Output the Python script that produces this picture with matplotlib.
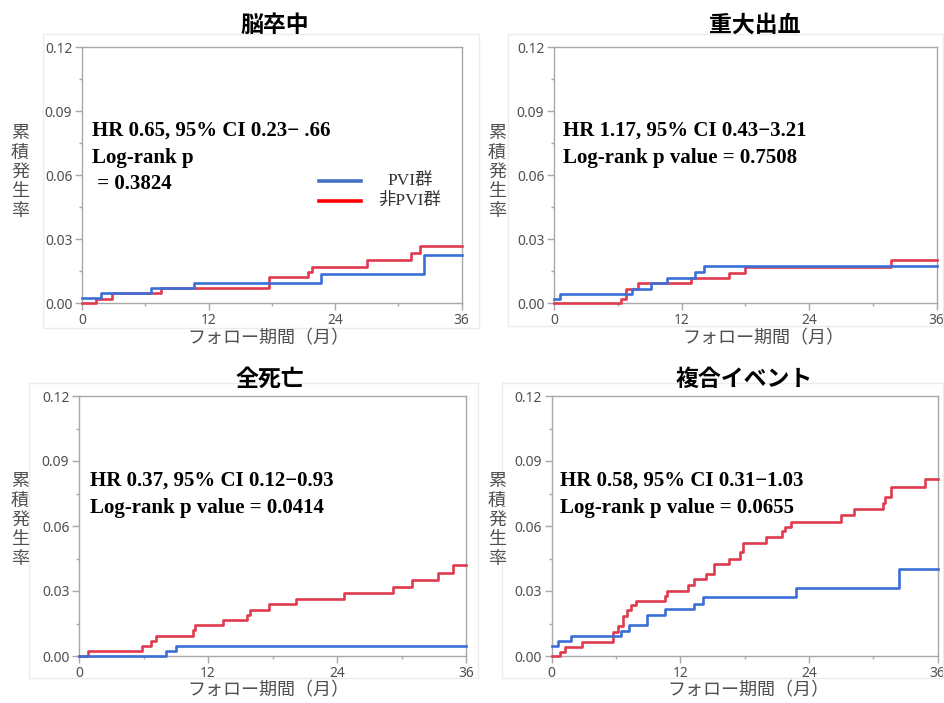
import matplotlib
matplotlib.use("Agg")
import matplotlib.pyplot as plt
from matplotlib.lines import Line2D
from matplotlib.patches import Rectangle
from matplotlib.ticker import MultipleLocator, FormatStrFormatter

W, H = 944, 703

# ---------------- data ----------------
titles = ["脳卒中", "重大出血", "全死亡", "複合イベント"]
xlabel = "フォロー期間（月）"
ylabel = "累積発生率"
legend_labels = ["PVI群", "非PVI群"]
x_ticks = [0, 12, 24, 36]
y_ticks = [0.00, 0.03, 0.06, 0.09, 0.12]

stroke_pvi_t = [0, 1.8, 6.55, 10.6, 22.7, 32.4, 36]
stroke_pvi_y = [0.0025, 0.0047, 0.0072, 0.0095, 0.0137, 0.0225, 0.0225]
stroke_non_t = [0, 1.3, 2.85, 7.5, 17.7, 21.4, 21.85, 27.0, 31.25, 32.1, 36]
stroke_non_y = [0, 0.002, 0.0047, 0.0072, 0.012, 0.0145, 0.0171, 0.02, 0.0233, 0.0267, 0.0267]

bleed_pvi_t = [0, 0.6, 7.3, 9.1, 10.6, 13.3, 14.1, 36]
bleed_pvi_y = [0.002, 0.0044, 0.0067, 0.0093, 0.0117, 0.0145, 0.0173, 0.0173]
bleed_non_t = [0, 6.3, 6.8, 7.9, 12.85, 16.5, 18.0, 31.7, 36]
bleed_non_y = [0, 0.002, 0.0067, 0.0093, 0.0117, 0.0142, 0.0168, 0.02, 0.02]

death_pvi_t = [0, 8.06, 9.0, 36]
death_pvi_y = [0, 0.0022, 0.0045, 0.0045]
death_non_t = [0, 0.87, 5.9, 6.7, 7.2, 10.6, 10.8, 13.4, 15.6, 15.9, 17.7, 20.15,
               24.65, 29.2, 31.0, 33.4, 34.8, 36]
death_non_y = [0, 0.0023, 0.0045, 0.007, 0.0094, 0.0119, 0.0142, 0.0165, 0.019, 0.0212,
               0.0238, 0.0261, 0.0289, 0.032, 0.0351, 0.0385, 0.042, 0.042]

comp_pvi_t = [0, 0.6, 1.86, 6.5, 7.2, 8.9, 10.6, 13.3, 14.1, 22.8, 32.4, 36]
comp_pvi_y = [0.0046, 0.007, 0.0093, 0.0115, 0.0145, 0.0191, 0.0216, 0.0242, 0.0272,
              0.0314, 0.04, 0.04]
comp_non_t = [0, 0.78, 1.3, 2.8, 5.7, 6.2, 6.7, 7.05, 7.45, 7.85, 10.55, 10.8, 12.7, 13.3,
              14.4, 15.15, 16.55, 17.55, 17.85, 20.0, 21.5, 21.8, 22.35, 27.0, 28.25, 30.9,
              31.15, 31.7, 34.8, 36]
comp_non_y = [0, 0.002, 0.0043, 0.0066, 0.0112, 0.0138, 0.0185, 0.0211, 0.0234, 0.0254,
              0.0277, 0.03, 0.0327, 0.0355, 0.0378, 0.0425, 0.045, 0.048, 0.052, 0.055,
              0.0575, 0.0595, 0.062, 0.065, 0.068, 0.0707, 0.0735, 0.078, 0.0815, 0.0815]

annotations = [
    ["HR 0.65, 95% CI 0.23\u2212 .66", "Log-rank p", " = 0.3824"],
    ["HR 1.17, 95% CI 0.43\u22123.21", "Log-rank p value = 0.7508"],
    ["HR 0.37, 95% CI 0.12\u22120.93", "Log-rank p value = 0.0414"],
    ["HR 0.58, 95% CI 0.31\u22121.03", "Log-rank p value = 0.0655"],
]

series = [
    (stroke_pvi_t, stroke_pvi_y, stroke_non_t, stroke_non_y),
    (bleed_pvi_t, bleed_pvi_y, bleed_non_t, bleed_non_y),
    (death_pvi_t, death_pvi_y, death_non_t, death_non_y),
    (comp_pvi_t, comp_pvi_y, comp_non_t, comp_non_y),
]

# ---------------- layout (pixels) ----------------
axes_px = [(82, 47, 461.5, 303), (554, 47, 936.5, 303),
           (79, 396, 466, 656), (551.5, 396, 937.5, 656)]
frames_px = [(43, 34, 479, 328), (508, 34, 943, 326),
             (29, 383, 478, 678), (502, 383, 943, 678)]
title_px = [(275, 25), (755, 25), (270, 379), (744, 379)]
ylabel_px = [(20, 172), (497, 172), (20, 520), (497, 520)]
xlabel_px = [(268, 338), (763, 338), (268, 690), (748, 690)]
annot_px = [(92, 131), (563, 131), (90, 481), (560, 481)]
line_gap = 26.5

BLUE = "#3b6fd6"
RED = "#e03a4e"
GRAY = "#a8a8a8"
TXT = "#505050"

CJK = ["Noto Sans CJK JP", "DejaVu Sans"]
SERIF = ["Liberation Serif", "Noto Sans CJK JP"]


def fx(x):
    return x / W


def fy(y):
    return 1 - y / H


fig = plt.figure(figsize=(W / 100, H / 100), dpi=100)
fig.patch.set_facecolor("white")

for i in range(4):
    x0, y0, x1, y1 = frames_px[i]
    fig.patches.append(Rectangle((fx(x0), fy(y1)), fx(x1 - x0), (y1 - y0) / H,
                                 transform=fig.transFigure, fill=False,
                                 edgecolor="#ececec", lw=1.0, zorder=0))

    l, t, r, b = axes_px[i]
    ax = fig.add_axes([fx(l), fy(b), fx(r - l), (b - t) / H])
    pt, py, nt, ny = series[i]
    ax.step(nt, ny, where="post", color=RED, lw=1.9, clip_on=False, zorder=3)
    ax.step(pt, py, where="post", color=BLUE, lw=1.9, clip_on=False, zorder=4)
    ax.set_xlim(0, 36)
    ax.set_ylim(0, 0.12)
    ax.set_xticks(x_ticks)
    ax.set_yticks(y_ticks)
    ax.xaxis.set_minor_locator(MultipleLocator(6))
    ax.yaxis.set_minor_locator(MultipleLocator(0.015))
    ax.yaxis.set_major_formatter(FormatStrFormatter("%.2f"))
    for s in ax.spines.values():
        s.set_color(GRAY)
        s.set_linewidth(1.0)
    ax.tick_params(which="major", length=5, width=1, color=GRAY, labelsize=10,
                   labelcolor=TXT, pad=2)
    ax.tick_params(which="minor", length=2.5, width=1, color=GRAY)
    for lab in ax.get_xticklabels() + ax.get_yticklabels():
        lab.set_fontfamily("Noto Sans")

    tx, ty = title_px[i]
    fig.text(fx(tx), fy(ty), titles[i], ha="center", va="center", fontsize=16.5,
             fontweight="bold", family=CJK, color="black")
    lx, ly = ylabel_px[i]
    fig.text(fx(lx), fy(ly), "\n".join(ylabel), ha="center", va="center",
             fontsize=13, family=CJK, color=TXT, linespacing=1.1)
    xx, xy = xlabel_px[i]
    fig.text(fx(xx), fy(xy), xlabel, ha="center", va="center", fontsize=13,
             family=CJK, color=TXT)
    axx, axy = annot_px[i]
    for k, line in enumerate(annotations[i]):
        fig.text(fx(axx), fy(axy + k * line_gap), line, ha="left", va="center",
                 fontsize=15, fontweight="bold", family=SERIF, color="black")

# legend (panel 1)
leg_colors = ["#4472c4", "#ff0000"]
leg_y = [181, 201]
for c, yy, lab in zip(leg_colors, leg_y, legend_labels):
    fig.add_artist(Line2D([fx(319), fx(361)], [fy(yy), fy(yy)], color=c, lw=2.6,
                          transform=fig.transFigure))
    fig.text(fx(410), fy(yy), lab, ha="center", va="center", fontsize=12.5,
             family=SERIF, color="#333333")

fig.savefig("out.png", dpi=100)
